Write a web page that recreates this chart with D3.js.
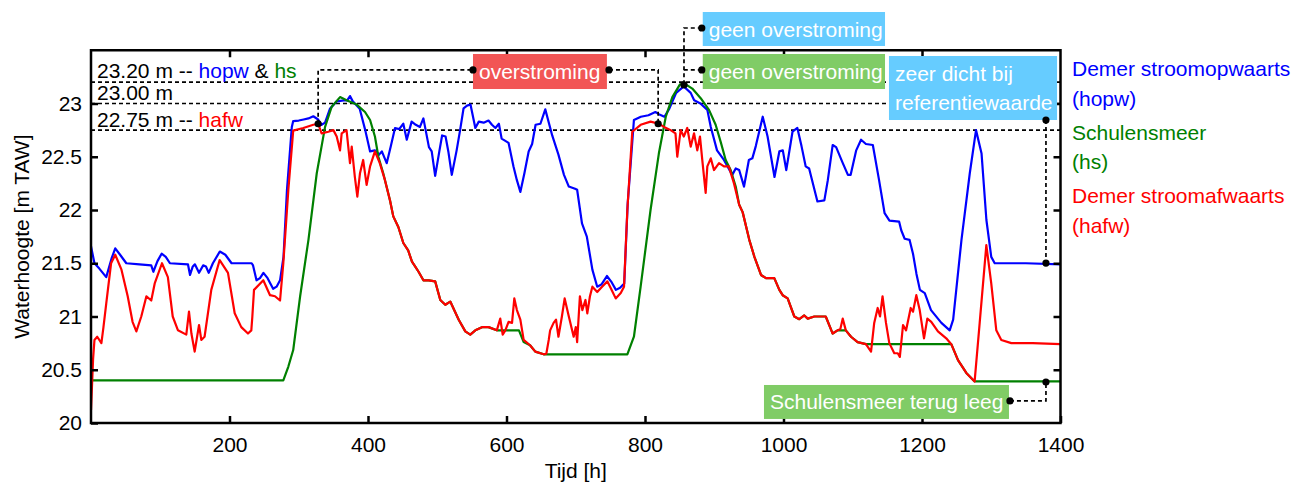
<!DOCTYPE html>
<html>
<head>
<meta charset="utf-8">
<script src="https://cdn.jsdelivr.net/npm/d3@7"></script>
<style>
  body { margin: 0; background: #fff; }
  svg { display: block; font-family: "Liberation Sans", Arial, sans-serif; }
</style>
</head>
<body>
<svg id="chart"></svg>
<script>
// [tijd (h), waterhoogte (m TAW)]
const hopw = [
  [0,21.66],[5,21.50],[12,21.45],[22,21.37],[30,21.55],[35,21.64],[42,21.58],[51,21.50],[70,21.49],
  [87,21.48],[90,21.42],[96,21.52],[102,21.59],[108,21.56],[114,21.50],[140,21.49],[143,21.39],
  [147,21.47],[150,21.49],[156,21.41],[162,21.48],[166,21.47],[170,21.41],[176,21.50],[186,21.61],
  [194,21.58],[203,21.50],[232,21.50],[234,21.48],[239,21.34],[244,21.36],[249,21.41],[255,21.36],
  [263,21.26],[268,21.28],[273,21.34],[278,21.56],[283,22.19],[290,22.78],[292,22.835],[300,22.84],
  [307,22.85],[314,22.86],[321,22.88],[328,22.85],[333,22.80],[338,22.82],[345,22.95],[355,23.02],
  [365,23.03],[370,23.03],[374,23.07],[378,23.02],[388,22.95],[396,22.75],[403,22.55],[410,22.56],
  [416,22.52],[420,22.55],[427,22.44],[433,22.60],[439,22.77],[445,22.76],[451,22.81],[456,22.66],
  [463,22.83],[469,22.80],[475,22.78],[480,22.86],[488,22.59],[492,22.55],[497,22.32],[503,22.55],
  [507,22.70],[512,22.69],[516,22.55],[521,22.33],[528,22.56],[533,22.75],[538,22.955],[543,22.98],
  [548,22.99],[555,22.77],[560,22.83],[567,22.82],[574,22.84],[579,22.80],[584,22.77],[589,22.81],
  [593,22.67],[603,22.63],[610,22.41],[615,22.28],[620,22.17],[626,22.35],[632,22.55],[637,22.62],
  [642,22.80],[649,22.81],[656,22.945],[666,22.70],[675,22.52],[683,22.33],[690,22.22],[699,22.20],
  [702,22.19],[709,21.875],[716,21.75],[724,21.44],[731,21.28],[737,21.30],[745,21.38],[752,21.32],
  [758,21.25],[764,21.27],[770,21.31],[775,22.06],[784,22.845],[794,22.876],[805,22.89],[815,22.92],
  [820,22.90],[828,22.876],[835,22.95],[845,23.10],[856,23.16],[866,23.10],[871,23.03],[880,23.00],
  [890,22.94],[895,22.78],[904,22.56],[914,22.47],[920,22.40],[926,22.33],[931,22.39],[936,22.375],
  [943,22.22],[950,22.47],[955,22.485],[960,22.60],[970,22.876],[977,22.69],[987,22.31],[994,22.55],
  [999,22.56],[1004,22.375],[1013,22.735],[1020,22.77],[1026,22.60],[1032,22.41],[1037,22.39],
  [1049,22.08],[1059,22.09],[1064,22.28],[1071,22.61],[1076,22.59],[1085,22.45],[1093,22.33],
  [1097,22.33],[1105,22.56],[1112,22.66],[1119,22.62],[1129,22.61],[1138,22.28],[1146,21.97],
  [1153,21.90],[1167,21.89],[1170,21.81],[1175,21.73],[1182,21.72],[1187,21.59],[1192,21.40],
  [1197,21.25],[1204,21.22],[1213,21.06],[1228,20.94],[1240,20.87],[1245,20.97],[1257,21.72],
  [1269,22.345],[1278,22.75],[1286,22.53],[1293,21.906],[1300,21.56],[1305,21.50],[1350,21.50],
  [1400,21.49]
];

// stretches where hafw and hs run on top of each other
const recessionA = [
  [431.8,22.09],[436.5,21.94],[443.8,21.84],[451,21.69],[458,21.62],[463.5,21.515],[468,21.47],
  [473,21.42],[480,21.34],[487.6,21.34],[497,21.33],[504.4,21.155],[511.6,21.11],[518.8,21.14],
  [531,20.97],[540.5,20.86],[547.7,20.83],[555,20.87],[564.6,20.90],[574,20.90],[586,20.87]
];
const recessionB = [[634,20.73],[641.6,20.67],[653.7,20.645]];
const recessionC = [
  [936,22.05],[941,21.98],[950.6,21.72],[958,21.56],[967.5,21.39],[974.7,21.36],[986.7,21.36],
  [994,21.25],[998.8,21.20],[1006,21.17],[1015.6,21.00],[1022.8,20.975],[1030,21.01],[1035,20.98],
  [1044.5,21.00],[1061,21.00],[1071,20.84],[1078,20.87]
];
const recessionD = [[1097.5,20.81],[1107,20.76],[1119,20.74]];
const emptying = [[1242.3,20.74],[1252,20.59],[1264,20.47],[1276,20.39]];

const hs = [].concat(
  [[0,20.40],[277.7,20.40],[285,20.53],[292,20.685],[302,21.19],[314,21.72],[326,22.345],[338,22.78],
   [347.6,22.97],[359.6,23.06],[369,23.03],[383.7,22.99],[395.7,22.92],[403,22.845],[410,22.69],
   [415,22.50],[422,22.345]],
  recessionA,
  [[591,20.87],[618,20.87],[624.8,20.76]],
  recessionB,
  [[774.5,20.645],[784,20.81],[793.7,21.28],[808,22.0],[820,22.53],[830,22.876],[839.5,23.06],
   [850.5,23.18],[858.8,23.18],[868.3,23.14],[880.4,23.05],[892.4,22.94],[902,22.80],[909.3,22.64],
   [916.5,22.47],[923.7,22.375],[931,22.22]],
  recessionC,
  [[1090,20.87]],
  recessionD,
  emptying,
  [[1400,20.39]]
);

const hafw = [].concat(
  [[0,20.12],[3,20.60],[5,20.78],[9,20.81],[15,20.75],[18,20.90],[22,21.12],[29,21.50],[35,21.58],
   [44,21.44],[53,21.19],[60,20.95],[65.5,20.86],[72.6,21.00],[80,21.19],[87,21.15],[92,21.31],
   [102.5,21.50],[111,21.37],[118,21.00],[125.6,20.87],[137.6,20.83],[141.5,21.045],[145,20.84],
   [149.7,20.67],[156,20.92],[159.3,20.78],[164,20.81],[173.7,21.25],[185.8,21.53],[197.8,21.41],
   [207.5,21.03],[217,20.90],[226.7,20.84],[231.5,20.87],[233,21.00],[235.4,21.25],[248.8,21.34],
   [258.5,21.20],[265.7,21.19],[273,21.15],[277.7,21.50],[285,22.19],[292,22.745],[306.6,22.77],
   [321,22.80],[328,22.81],[333,22.72],[342.7,22.735],[350,22.75],[354.8,22.69],[359.6,22.56],
   [362,22.72],[369,22.75],[374,22.44],[376.5,22.595],[381,22.31],[384.6,22.125],[388.4,22.345],
   [393,22.47],[398,22.235],[403,22.41],[410,22.55],[417,22.44],[424.5,22.28]],
  recessionA,
  [[591,20.98],[594.5,20.83],[598.3,20.87],[603,20.95],[608,20.94],[611.3,21.17],[615,21.06],
   [620,20.97],[624.8,20.78]],
  recessionB,
  [[657.5,20.65],[661,20.78],[663,20.87],[668,20.94],[671.5,20.97],[675,20.81],[680,21.00],
   [684,21.17],[690,21.00],[697,20.81],[700,20.90],[702,20.76],[706,21.19],[709.5,21.06],[714,21.155],
   [716.7,21.03],[720.5,21.19],[724,21.28],[731,21.23],[738,21.28],[745.6,21.33],[751,21.26],
   [757.7,21.17],[765,21.22],[769.7,21.28],[774.5,22.00],[781.6,22.735],[793.7,22.80],[808,22.83],
   [820,22.81],[827.5,22.78],[837,22.75],[844,22.72],[846.6,22.50],[851.5,22.75],[856,22.69],
   [861,22.77],[866,22.595],[870.8,22.72],[875.5,22.56],[879.4,22.69],[882.7,22.47],[887.6,22.16],
   [890,22.41],[895,22.485],[899.6,22.375],[906.9,22.44],[914,22.41],[921,22.41],[928.5,22.25]],
  recessionC,
  [[1082,20.88],[1085.5,20.98],[1090,20.87]],
  recessionD,
  [[1126.4,20.67],[1131,20.94],[1136,21.08],[1139.4,21.00],[1143,21.19],[1148,20.94],[1152.8,20.75],
   [1160,20.655],[1165,20.655],[1168,20.62],[1172.6,20.92],[1177,20.87],[1183.7,21.08],[1187,21.045],
   [1191.8,21.20],[1196.7,21.06],[1202.9,20.795],[1207.7,20.98],[1213.4,20.95],[1223,20.86],
   [1235,20.795]],
  emptying,
  [[1283.3,20.94],[1292.9,21.67],[1300,21.31],[1307.3,20.87],[1314.5,20.78],[1329,20.75],
   [1360,20.75],[1400,20.74]]
);

const xTicks = [200, 400, 600, 800, 1000, 1200, 1400];
const yTicks = [20, 20.5, 21, 21.5, 22, 22.5, 23];
const thresholds = [23.2, 23.0, 22.75];

const legendItems = [
  ["Demer stroomopwaarts", "(hopw)", "#0000ff"],
  ["Schulensmeer", "(hs)", "#008000"],
  ["Demer stroomafwaarts", "(hafw)", "#ff0000"]
];

// annotation boxes and leader lines, placed in data units
const boxes = [
  { lines: ["overstroming"], fill: "#f25555", t: [551.6, 745], v: [23.465, 23.136] },
  { lines: ["geen overstroming"], fill: "#66ccff", t: [883.4, 1146.6], v: [23.859, 23.54] },
  { lines: ["geen overstroming"], fill: "#80cc66", t: [883.4, 1146.6], v: [23.465, 23.136] },
  { lines: ["zeer dicht bij", "referentiewaarde"], fill: "#66ccff", t: [1152.3, 1395], v: [23.446, 22.845] },
  { lines: ["Schulensmeer terug leeg"], fill: "#80cc66", t: [971.8, 1325.6], v: [20.357, 20.038] }
];
const leaders = [
  [[328,22.81],[328,23.315],[551.6,23.315]],
  [[748,23.315],[819,23.315],[819,22.81]],
  [[882,23.709],[856.3,23.709],[856.3,23.174]],
  [[882,23.315],[856.3,23.315]],
  [[1379,22.845],[1379,21.502]],
  [[1327,20.207],[1379,20.207],[1379,20.385]]
];
const dots = [
  [328,22.81],[551.6,23.315],[748,23.315],[819,22.81],[882,23.709],[856.3,23.174],
  [882,23.315],[1379,22.845],[1379,21.502],[1327,20.207],[1379,20.385]
];

const width = 1306;
const height = 485;
const marginTop = 50.25;
const marginRight = 245.5;
const marginBottom = 62;
const marginLeft = 91;
const fontSize = 21;

const svg = d3.select("#chart")
    .attr("width", width)
    .attr("height", height);

const x = d3.scaleLinear()
    .domain([0, 1400])
    .range([marginLeft, width - marginRight]);

const y = d3.scaleLinear()
    .domain([20, 23.5])
    .range([height - marginBottom, marginTop]);

svg.append("defs").append("clipPath").attr("id", "plot")
  .append("rect")
    .attr("x", marginLeft).attr("y", marginTop)
    .attr("width", x.range()[1] - marginLeft)
    .attr("height", y.range()[0] - marginTop);

// threshold lines
svg.append("g")
  .selectAll("line")
  .data(thresholds)
  .join("line")
    .attr("x1", marginLeft).attr("x2", width - marginRight)
    .attr("y1", d => y(d)).attr("y2", d => y(d))
    .attr("stroke", "#000")
    .attr("stroke-width", 1.7)
    .attr("stroke-dasharray", "4,3");

const thresholdLabels = [
  [["23.20 m -- ", "#000"], ["hopw", "#0000ff"], [" & ", "#000"], ["hs", "#008000"]],
  [["23.00 m", "#000"]],
  [["22.75 m -- ", "#000"], ["hafw", "#ff0000"]]
];
const labelBaseline = [77.5, 100, 127];
svg.append("g")
  .selectAll("text")
  .data(thresholdLabels)
  .join("text")
    .attr("x", marginLeft + 6)
    .attr("y", (d, i) => labelBaseline[i])
    .attr("font-size", fontSize)
    .style("white-space", "pre")
    .each(function(parts) {
      d3.select(this).selectAll("tspan")
        .data(parts)
        .join("tspan")
          .attr("fill", p => p[1])
          .text(p => p[0]);
    });

// series
const line = d3.line()
    .x(d => x(d[0]))
    .y(d => y(d[1]));

const series = [
  [hopw, "#0000ff"],
  [hs, "#008000"],
  [hafw, "#ff0000"]
];
svg.append("g")
    .attr("clip-path", "url(#plot)")
  .selectAll("path")
  .data(series)
  .join("path")
    .attr("d", d => line(d[0]))
    .attr("fill", "none")
    .attr("stroke", d => d[1])
    .attr("stroke-width", 2.2)
    .attr("stroke-linejoin", "round");

// axes: ticks pointing inward on all four sides
const tickLen = 7;
const fmt = d => String(d);
svg.append("g")
    .attr("transform", `translate(0,${y.range()[0]})`)
    .call(d3.axisBottom(x).tickValues(xTicks).tickFormat(fmt).tickSizeInner(-tickLen).tickSizeOuter(0).tickPadding(14));
svg.append("g")
    .attr("transform", `translate(0,${marginTop})`)
    .call(d3.axisTop(x).tickValues(xTicks.slice(0, -1)).tickSizeInner(-tickLen).tickSizeOuter(0).tickFormat(""));
svg.append("g")
    .attr("transform", `translate(${marginLeft},0)`)
    .call(d3.axisLeft(y).tickValues(yTicks).tickFormat(fmt).tickSizeInner(-tickLen).tickSizeOuter(0).tickPadding(9));
svg.append("g")
    .attr("transform", `translate(${width - marginRight},0)`)
    .call(d3.axisRight(y).tickValues(yTicks.slice(1)).tickSizeInner(-tickLen).tickSizeOuter(0).tickFormat(""));

svg.selectAll(".domain").remove();
svg.selectAll(".tick line").attr("stroke", "#000").attr("stroke-width", 2.5);
svg.selectAll(".tick text")
    .attr("fill", "#000")
    .attr("font-size", fontSize)
    .attr("font-family", "'Liberation Sans', Arial, sans-serif");

svg.append("rect")
    .attr("x", marginLeft).attr("y", marginTop)
    .attr("width", x.range()[1] - marginLeft)
    .attr("height", y.range()[0] - marginTop)
    .attr("fill", "none")
    .attr("stroke", "#000")
    .attr("stroke-width", 2.5);

svg.append("text")
    .attr("x", (x.range()[0] + x.range()[1]) / 2)
    .attr("y", 478)
    .attr("text-anchor", "middle")
    .attr("font-size", fontSize)
    .text("Tijd [h]");

svg.append("text")
    .attr("transform", `translate(21,${(y.range()[0] + y.range()[1]) / 2}) rotate(-90)`)
    .attr("text-anchor", "middle")
    .attr("dominant-baseline", "central")
    .attr("font-size", fontSize)
    .text("Waterhoogte [m TAW]");

// legend
const legend = svg.append("g");
legendItems.forEach((item, i) => {
  const base = 76 + i * 63.5;
  legend.append("text")
      .attr("x", 1072).attr("y", base)
      .attr("fill", item[2]).attr("font-size", fontSize)
      .text(item[0]);
  legend.append("text")
      .attr("x", 1072).attr("y", base + 29.5)
      .attr("fill", item[2]).attr("font-size", fontSize)
      .text(item[1]);
});

// leader lines
svg.append("g")
  .selectAll("path")
  .data(leaders)
  .join("path")
    .attr("d", d => line(d))
    .attr("fill", "none")
    .attr("stroke", "#000")
    .attr("stroke-width", 1.7)
    .attr("stroke-dasharray", "4,3");

// boxes
const box = svg.append("g")
  .selectAll("g")
  .data(boxes)
  .join("g");
box.append("rect")
    .attr("x", d => x(d.t[0]))
    .attr("y", d => y(d.v[0]))
    .attr("width", d => x(d.t[1]) - x(d.t[0]))
    .attr("height", d => y(d.v[1]) - y(d.v[0]))
    .attr("fill", d => d.fill);
box.each(function(d) {
  const g = d3.select(this);
  const mid = (y(d.v[0]) + y(d.v[1])) / 2;
  const step = 28.7;
  d.lines.forEach((txt, i) => {
    g.append("text")
        .attr("x", x(d.t[0]) + 6)
        .attr("y", mid + (i - (d.lines.length - 1) / 2) * step)
        .attr("dominant-baseline", "central")
        .attr("fill", "#fff")
        .attr("font-size", fontSize)
        .text(txt);
  });
});

svg.append("g")
  .selectAll("circle")
  .data(dots)
  .join("circle")
    .attr("cx", d => x(d[0]))
    .attr("cy", d => y(d[1]))
    .attr("r", 3.6)
    .attr("fill", "#000");
</script>
</body>
</html>
